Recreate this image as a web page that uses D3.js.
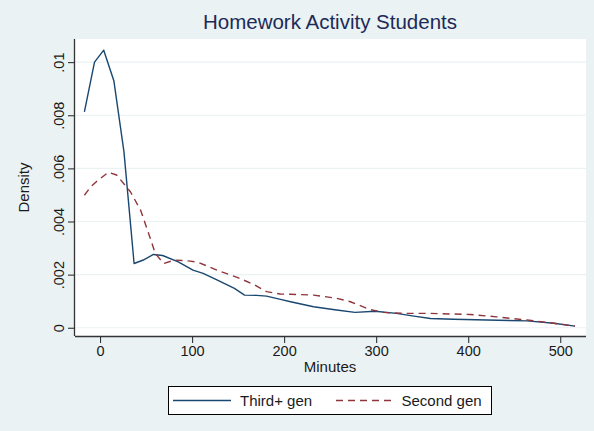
<!DOCTYPE html>
<html>
<head>
<meta charset="utf-8">
<script src="https://cdn.jsdelivr.net/npm/d3@7"></script>
<style>
  html, body { margin: 0; padding: 0; background: #eaf2f3; }
  svg { display: block; font-family: "Liberation Sans", Arial, sans-serif; }
</style>
</head>
<body>
<svg id="chart" width="594" height="431"></svg>
<script>
// Kernel density of minutes spent on homework, by immigrant generation
const thirdMinutes = [-17, -6, 4, 15, 26, 37, 47, 58, 68, 85, 101, 112, 127, 146, 157, 170, 181, 196, 207, 232, 257, 277, 299, 322, 341, 359, 384, 420, 464, 493, 516];
const thirdDensity = [.00813, .01000, .01045, .00930, .00662, .00242, .00255, .00276, .00272, .00248, .00217, .00205, .00180, .00148, .00123, .00122, .00119, .00107, .00098, .00079, .00067, .00058, .00062, .00054, .00044, .00035, .00032, .00029, .00026, .00017, .00006];

const secondMinutes = [-17, -10, -4, 9, 18, 33, 44, 54, 60, 69, 81, 98, 107, 118, 130, 149, 167, 181, 196, 207, 232, 257, 272, 293, 308, 330, 359, 402, 431, 464, 493, 516];
const secondDensity = [.00499, .00531, .00550, .00585, .00575, .00512, .00443, .00343, .00280, .00242, .00255, .00251, .00246, .00230, .00213, .00190, .00163, .00136, .00127, .00126, .00123, .00111, .00098, .00069, .00058, .00054, .00054, .00050, .00041, .00029, .00017, .00006];

const xTicks = [0, 100, 200, 300, 400, 500];
const yTicks = [0, .002, .004, .006, .008, .01];
const yTickLabels = ["0", ".002", ".004", ".006", ".008", ".01"];

const seriesNames = ["Third+ gen", "Second gen"];
const seriesColors = ["#1a476f", "#90353b"];
const seriesDash = [null, "7,5"];

const svg = d3.select("#chart");
const W = 594, H = 431;
const plot = { left: 75, right: 586, top: 39, bottom: 336 };

svg.append("rect").attr("width", W).attr("height", H).attr("fill", "#eaf2f3");
svg.append("rect")
  .attr("x", plot.left).attr("y", plot.top)
  .attr("width", plot.right - plot.left).attr("height", plot.bottom - plot.top)
  .attr("fill", "#ffffff");

const x = d3.scaleLinear().domain([-27.2, 528]).range([plot.left, plot.right]);
const y = d3.scaleLinear().domain([-0.00031, 0.01087]).range([plot.bottom, plot.top]);

// horizontal grid lines
svg.append("g").selectAll("line").data(yTicks).join("line")
  .attr("x1", plot.left).attr("x2", plot.right)
  .attr("y1", d => y(d)).attr("y2", d => y(d))
  .attr("stroke", "#eaf2f3").attr("stroke-width", 1.2);

// axes
const xAxis = svg.append("g")
  .attr("transform", `translate(0,${plot.bottom})`)
  .call(d3.axisBottom(x).tickValues(xTicks).tickSize(7).tickPadding(3).tickFormat(d3.format("d")));
const yAxis = svg.append("g")
  .attr("transform", `translate(${plot.left},0)`)
  .call(d3.axisLeft(y).tickValues(yTicks).tickSize(7).tickPadding(4)
    .tickFormat((d, i) => yTickLabels[i]));

[xAxis, yAxis].forEach(g => {
  g.select(".domain").attr("stroke", "#333").attr("stroke-width", 1.3);
  g.selectAll(".tick line").attr("stroke", "#333").attr("stroke-width", 1.1);
  g.selectAll("text").attr("fill", "#1a1a1a").style("font-size", "14.5px")
    .style("font-family", "'Liberation Sans', Arial, sans-serif");
});
xAxis.select(".domain").attr("d", `M${plot.left},0.5H${plot.right}`);
yAxis.select(".domain").attr("d", `M-0.5,${plot.bottom}V${plot.top}`);

// rotated y tick labels
yAxis.selectAll(".tick text")
  .attr("transform", "rotate(-90)")
  .attr("x", 0).attr("y", -11)
  .attr("dy", 0)
  .attr("text-anchor", "middle");

// series lines
const line = d3.line().x(d => x(d[0])).y(d => y(d[1]));
const series = [
  d3.zip(thirdMinutes, thirdDensity),
  d3.zip(secondMinutes, secondDensity)
];
series.forEach((pts, i) => {
  svg.append("path").datum(pts)
    .attr("d", line)
    .attr("fill", "none")
    .attr("stroke", seriesColors[i])
    .attr("stroke-width", 1.4)
    .attr("stroke-dasharray", seriesDash[i])
    .attr("stroke-linejoin", "round");
});

// titles
svg.append("text").attr("x", 330).attr("y", 29)
  .attr("text-anchor", "middle").attr("fill", "#1c2a58")
  .style("font-size", "20.5px").text("Homework Activity Students");
svg.append("text").attr("x", 330).attr("y", 372)
  .attr("text-anchor", "middle").attr("fill", "#1a1a1a")
  .style("font-size", "15px").text("Minutes");
svg.append("text")
  .attr("transform", `translate(29,${(plot.top + plot.bottom) / 2}) rotate(-90)`)
  .attr("text-anchor", "middle").attr("fill", "#1a1a1a")
  .style("font-size", "15px").text("Density");

// legend
const legend = svg.append("g");
legend.append("rect").attr("x", 168.5).attr("y", 386.5).attr("width", 323).attr("height", 28)
  .attr("fill", "#fff").attr("stroke", "#000").attr("stroke-width", 1);
const legendItems = [
  { x0: 173, x1: 231, tx: 240 },
  { x0: 336, x1: 392, tx: 401.5 }
];
legendItems.forEach((it, i) => {
  legend.append("line").attr("x1", it.x0).attr("x2", it.x1).attr("y1", 400.5).attr("y2", 400.5)
    .attr("stroke", seriesColors[i]).attr("stroke-width", 1.4)
    .attr("stroke-dasharray", seriesDash[i]);
  legend.append("text").attr("x", it.tx).attr("y", 405.5)
    .attr("fill", "#1a1a1a").style("font-size", "15px").text(seriesNames[i]);
});
</script>
</body>
</html>
